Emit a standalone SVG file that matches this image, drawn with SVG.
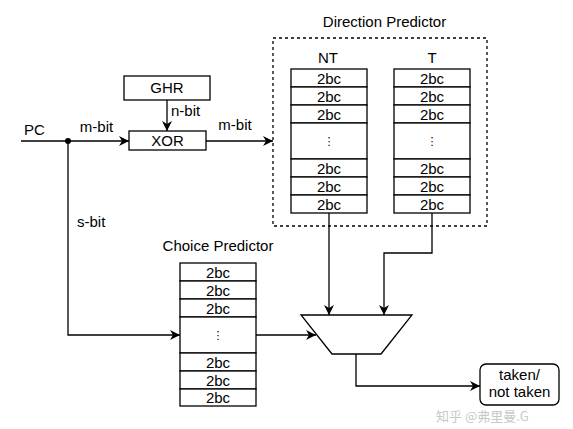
<svg xmlns="http://www.w3.org/2000/svg" width="573" height="429" viewBox="0 0 573 429">
<defs>
<style>
text{font-family:"Liberation Sans",Arial,sans-serif;font-size:15px;fill:#000}
.c{text-anchor:middle}
.box{fill:#fff;stroke:#000;stroke-width:1.3}
.wire{fill:none;stroke:#000;stroke-width:1.3}
.dash{fill:none;stroke:#000;stroke-width:1.3;stroke-dasharray:3 3}
.ell{font-family:"DejaVu Sans",sans-serif;font-size:11px}
.wm{font-family:"Noto Sans CJK SC","Liberation Sans",sans-serif;font-size:13px;fill:#c8c8c8}
</style>
<marker id="ar" viewBox="0 0 10 10" refX="10" refY="5" markerWidth="10" markerHeight="10" markerUnits="userSpaceOnUse" orient="auto">
<path d="M0,0 L10,5 L0,10 L3,5 Z" fill="#000"/>
</marker>
</defs>
<rect width="573" height="429" fill="#fff"/>

<g id="direction-predictor">
<rect class="dash" x="273" y="38" width="214" height="188"/>
<text class="c" x="384.5" y="27">Direction Predictor</text>
</g>

<g id="nt-table">
<text class="c" x="328" y="63">NT</text>
<rect class="box" x="291" y="69" width="76" height="18"/>
<rect class="box" x="291" y="87" width="76" height="18"/>
<rect class="box" x="291" y="105" width="76" height="18"/>
<rect class="box" x="291" y="123" width="76" height="36"/>
<rect class="box" x="291" y="159" width="76" height="18"/>
<rect class="box" x="291" y="177" width="76" height="18"/>
<rect class="box" x="291" y="195" width="76" height="18"/>
<text class="c" x="329" y="83.5">2bc</text>
<text class="c" x="329" y="101.5">2bc</text>
<text class="c" x="329" y="119.5">2bc</text>
<text class="c ell" x="329" y="145">⋮</text>
<text class="c" x="329" y="173.5">2bc</text>
<text class="c" x="329" y="191.5">2bc</text>
<text class="c" x="329" y="209.5">2bc</text>
</g>

<g id="t-table">
<text class="c" x="432" y="63">T</text>
<rect class="box" x="394" y="69" width="76" height="18"/>
<rect class="box" x="394" y="87" width="76" height="18"/>
<rect class="box" x="394" y="105" width="76" height="18"/>
<rect class="box" x="394" y="123" width="76" height="36"/>
<rect class="box" x="394" y="159" width="76" height="18"/>
<rect class="box" x="394" y="177" width="76" height="18"/>
<rect class="box" x="394" y="195" width="76" height="18"/>
<text class="c" x="432" y="83.5">2bc</text>
<text class="c" x="432" y="101.5">2bc</text>
<text class="c" x="432" y="119.5">2bc</text>
<text class="c ell" x="432" y="145">⋮</text>
<text class="c" x="432" y="173.5">2bc</text>
<text class="c" x="432" y="191.5">2bc</text>
<text class="c" x="432" y="209.5">2bc</text>
</g>

<g id="choice-predictor">
<text class="c" x="218" y="251">Choice Predictor</text>
<rect class="box" x="180" y="263" width="76" height="18"/>
<rect class="box" x="180" y="281" width="76" height="18"/>
<rect class="box" x="180" y="299" width="76" height="18"/>
<rect class="box" x="180" y="317" width="76" height="36"/>
<rect class="box" x="180" y="353" width="76" height="18"/>
<rect class="box" x="180" y="371" width="76" height="18"/>
<rect class="box" x="180" y="389" width="76" height="17"/>
<text class="c" x="218" y="277.5">2bc</text>
<text class="c" x="218" y="295.5">2bc</text>
<text class="c" x="218" y="313.5">2bc</text>
<text class="c ell" x="218" y="339">⋮</text>
<text class="c" x="218" y="367.5">2bc</text>
<text class="c" x="218" y="385.5">2bc</text>
<text class="c" x="218" y="403">2bc</text>
</g>

<g id="ghr">
<rect class="box" x="124" y="76" width="86" height="24"/>
<text class="c" x="167" y="93">GHR</text>
</g>

<g id="xor">
<rect class="box" x="129" y="131" width="77" height="19"/>
<text class="c" x="167.5" y="146">XOR</text>
</g>

<g id="mux">
<polygon class="box" points="301,315 412,315 381,354 332,354"/>
</g>

<g id="result">
<rect class="box" x="480" y="364" width="79" height="41" rx="6"/>
<text class="c" x="519.5" y="380">taken/</text>
<text class="c" x="519.5" y="397">not taken</text>
</g>

<g id="connectors">
<path class="wire" d="M21,141 H129" marker-end="url(#ar)"/>
<circle cx="68" cy="141" r="3" fill="#000"/>
<path class="wire" d="M167,100 V131" marker-end="url(#ar)"/>
<path class="wire" d="M206,141 H273" marker-end="url(#ar)"/>
<path class="wire" d="M68,141 V335 H180" marker-end="url(#ar)"/>
<path class="wire" d="M256,335 H316" marker-end="url(#ar)"/>
<path class="wire" d="M329,213 V315" marker-end="url(#ar)"/>
<path class="wire" d="M432,213 V253 H384 V315" marker-end="url(#ar)"/>
<path class="wire" d="M356,354 V386 H480" marker-end="url(#ar)"/>
<text class="c" x="34.5" y="135">PC</text>
<text class="c" x="96.5" y="132">m-bit</text>
<text x="171" y="116">n-bit</text>
<text class="c" x="235" y="130">m-bit</text>
<text x="77" y="227">s-bit</text>
</g>

<text class="wm" x="436" y="421">知乎 @弗里曼.G</text>
</svg>
